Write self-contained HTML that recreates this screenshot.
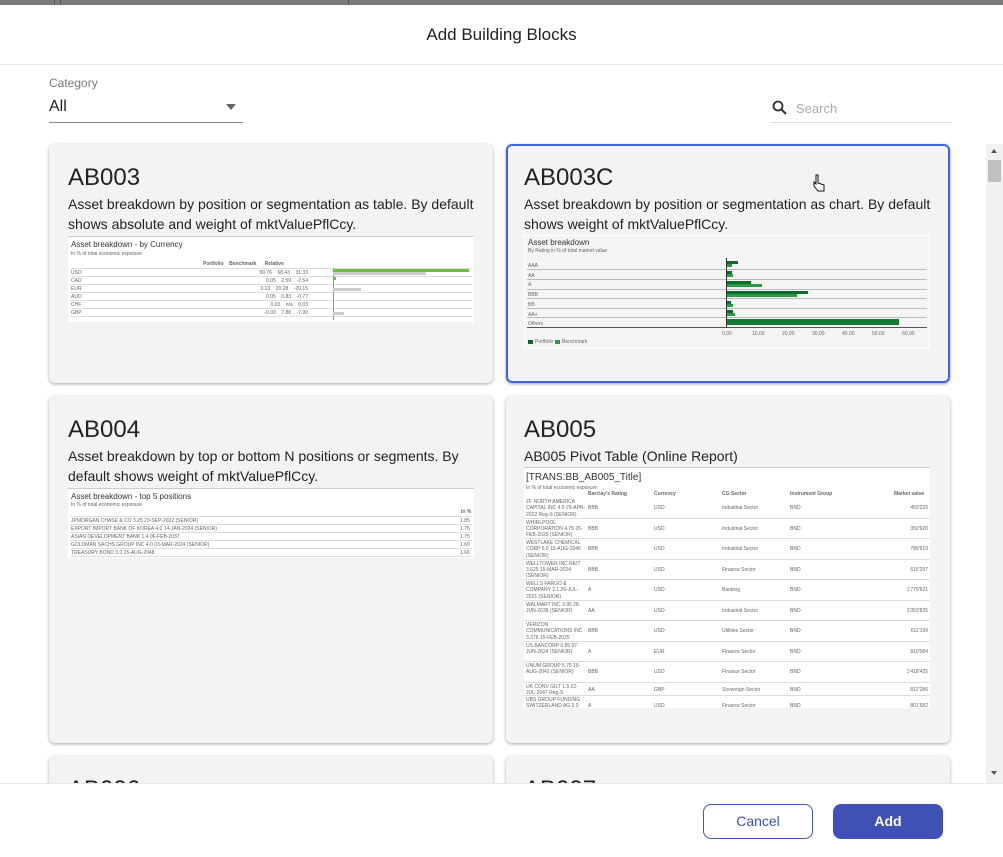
<!DOCTYPE html>
<html><head><meta charset="utf-8"><style>
*{margin:0;padding:0;box-sizing:border-box}
body{width:1003px;height:857px;background:#fff;font-family:"Liberation Sans",sans-serif;position:relative;overflow:hidden;color:#222}
.a{position:absolute}
.card{position:absolute;background:#f3f3f3;border-radius:6px;box-shadow:0 1px 3px rgba(0,0,0,.35)}
.card h2{position:absolute;left:19px;top:20px;font-size:24px;font-weight:normal;color:#222}
.card p{position:absolute;left:19px;top:50px;width:420px;font-size:14px;line-height:20px;color:#222}
.th{position:absolute;background:#fff;overflow:hidden;font-size:5px;color:#666;white-space:nowrap}
.th .t{position:absolute;font-size:8px;color:#333}
.th .r{position:absolute;left:2px;right:2px;height:1px;background:#ddd}
.pr{position:absolute;left:0;width:406px;height:20.5px;border-bottom:1px solid #ddd}
.pr span{position:absolute;top:7px}
.pr .n{left:2px;top:1px;width:60px;line-height:6.3px;white-space:normal;overflow:hidden;height:19px}
</style></head><body>
<div class="a" style="left:0;top:0;width:1003px;height:5px;background:#7b7b7b"></div>
<div class="a" style="left:54px;top:0;width:1px;height:5px;background:#555"></div>
<div class="a" style="left:60px;top:0;width:1px;height:5px;background:#555"></div>
<div class="a" style="left:348px;top:0;width:1px;height:5px;background:#555"></div>
<div class="a" style="left:0;top:25px;width:1003px;text-align:center;font-size:17px;color:#222">Add Building Blocks</div>
<div class="a" style="left:0;top:64px;width:1003px;height:1px;background:#e8e8e8"></div>
<div class="a" style="left:49px;top:76px;font-size:12px;color:#777">Category</div>
<div class="a" style="left:49px;top:98px;font-size:16px;color:#222">All</div>
<div class="a" style="left:226px;top:104px;width:0;height:0;border-left:5px solid transparent;border-right:5px solid transparent;border-top:6px solid #666"></div>
<div class="a" style="left:49px;top:122px;width:194px;height:1px;background:#888"></div>
<svg class="a" style="left:772px;top:100px" width="16" height="16"><circle cx="6" cy="6" r="4.5" fill="none" stroke="#333" stroke-width="1.8"/><line x1="9.5" y1="9.5" x2="14" y2="14" stroke="#333" stroke-width="2"/></svg>
<div class="a" style="left:796px;top:101px;font-size:13px;color:#aaa">Search</div>
<div class="a" style="left:770px;top:122px;width:182px;height:1px;background:#e0e0e0"></div>

<!-- card 1 -->
<div class="card" style="left:49px;top:144px;width:444px;height:239px">
<h2>AB003</h2><p>Asset breakdown by position or segmentation as table. By default shows absolute and weight of mktValuePflCcy.</p>
<div class="th" style="left:19px;top:92px;width:406px;height:86px;border-top:1px solid #ccc">
<div class="t" style="left:3px;top:3px">Asset breakdown - by Currency</div>
<div class="a" style="left:3px;top:14px">In % of total economic exposure</div>
<div class="a" style="left:135px;top:24px;font-weight:bold">Portfolio&nbsp;&nbsp;&nbsp;&nbsp;Benchmark&nbsp;&nbsp;&nbsp;&nbsp;&nbsp;&nbsp;Relative</div>
<div class="r" style="top:31px"></div><div class="r" style="top:39px"></div><div class="r" style="top:47px"></div><div class="r" style="top:55px"></div><div class="r" style="top:63px"></div><div class="r" style="top:71px"></div><div class="r" style="top:79px"></div>
<div class="a" style="left:3px;top:32px;line-height:8px">USD<br>CAD<br>EUR<br>AUD<br>CHF<br>GBP</div>
<div class="a" style="left:150px;top:32px;line-height:8px;text-align:right;width:90px">99.76&nbsp;&nbsp;&nbsp;&nbsp;68.43&nbsp;&nbsp;&nbsp;&nbsp;31.33<br>0.05&nbsp;&nbsp;&nbsp;&nbsp;2.59&nbsp;&nbsp;&nbsp;&nbsp;-2.54<br>0.13&nbsp;&nbsp;&nbsp;&nbsp;20.28&nbsp;&nbsp;&nbsp;&nbsp;-20.15<br>0.05&nbsp;&nbsp;&nbsp;&nbsp;0.83&nbsp;&nbsp;&nbsp;&nbsp;-0.77<br>0.03&nbsp;&nbsp;&nbsp;&nbsp;n/a&nbsp;&nbsp;&nbsp;&nbsp;0.03<br>-0.03&nbsp;&nbsp;&nbsp;&nbsp;7.88&nbsp;&nbsp;&nbsp;&nbsp;-7.90</div>
<div class="a" style="left:265px;top:31px;width:1px;height:52px;background:#999"></div>
<div class="a" style="left:265px;top:32px;width:136px;height:3px;background:#6bbf3a"></div>
<div class="a" style="left:265px;top:35px;width:93px;height:3px;background:#ccc"></div>
<div class="a" style="left:265px;top:40px;width:3px;height:3px;background:#6bbf3a"></div>
<div class="a" style="left:265px;top:51px;width:28px;height:3px;background:#ccc"></div>
<div class="a" style="left:265px;top:75px;width:11px;height:3px;background:#ccc"></div>
</div></div>

<!-- card 2 -->
<div class="card" style="left:506px;top:144px;width:444px;height:239px;border:2px solid #3f65dd;background:#f3f3f3">
<h2 style="left:16px;top:18px">AB003C</h2><p style="left:16px;top:48px">Asset breakdown by position or segmentation as chart. By default shows weight of mktValuePflCcy.</p>
<div class="th" style="left:16px;top:89px;width:406px;height:113px;background:#f4f4f4;border:1px solid #fff">
<div class="t" style="left:3px;top:2px">Asset breakdown</div>
<div class="a" style="left:3px;top:12px">By Rating in % of total market value</div>
<div class="a" style="left:3px;top:26px;line-height:9.7px">AAA<br>AA<br>A<br>BBB<br>BB<br>AA+<br>Others</div>
<div class="r" style="top:33px;background:#bbb"></div><div class="r" style="top:43px;background:#bbb"></div><div class="r" style="top:53px;background:#bbb"></div><div class="r" style="top:62px;background:#bbb"></div><div class="r" style="top:72px;background:#bbb"></div><div class="r" style="top:81px;background:#bbb"></div><div class="r" style="top:91px;background:#555"></div>
<div class="a" style="left:201px;top:22px;width:1px;height:70px;background:#333"></div>
<div class="a" style="left:202px;top:25px;width:11px;height:3px;background:#0b6b2a"></div><div class="a" style="left:202px;top:28px;width:5px;height:3px;background:#2a9a40"></div>
<div class="a" style="left:202px;top:35px;width:5px;height:3px;background:#0b6b2a"></div><div class="a" style="left:202px;top:38px;width:6px;height:3px;background:#2a9a40"></div>
<div class="a" style="left:202px;top:45px;width:24px;height:3px;background:#0b6b2a"></div><div class="a" style="left:202px;top:48px;width:35px;height:3px;background:#2a9a40"></div>
<div class="a" style="left:202px;top:55px;width:81px;height:3px;background:#0b6b2a"></div><div class="a" style="left:202px;top:58px;width:70px;height:3px;background:#2a9a40"></div>
<div class="a" style="left:202px;top:65px;width:4px;height:3px;background:#0b6b2a"></div><div class="a" style="left:202px;top:68px;width:6px;height:3px;background:#2a9a40"></div>
<div class="a" style="left:202px;top:74px;width:6px;height:3px;background:#0b6b2a"></div><div class="a" style="left:202px;top:77px;width:8px;height:3px;background:#2a9a40"></div>
<div class="a" style="left:202px;top:83px;width:172px;height:6px;background:#137a30"></div>
<div class="a" style="left:197px;top:95px"><span class="a" style="left:0">0.00</span><span class="a" style="left:30px">10.00</span><span class="a" style="left:60px">20.00</span><span class="a" style="left:90px">30.00</span><span class="a" style="left:120px">40.00</span><span class="a" style="left:150px">50.00</span><span class="a" style="left:180px">60.00</span></div>
<div class="a" style="left:3px;top:104px;width:5px;height:4px;background:#0b6b2a"></div><div class="a" style="left:10px;top:103px">Portfolio</div>
<div class="a" style="left:30px;top:104px;width:5px;height:4px;background:#2a9a40"></div><div class="a" style="left:37px;top:103px">Benchmark</div>
</div></div>
<svg class="a" style="left:811px;top:173px" width="16" height="20"><path d="M5 2 v9 l-2 -2 v4 l4 5 h6 v-6 l-6 -2 v-8 z" fill="#fff" stroke="#111" stroke-width="1"/></svg>

<!-- card 3 -->
<div class="card" style="left:49px;top:396px;width:444px;height:347px">
<h2>AB004</h2><p>Asset breakdown by top or bottom N positions or segments. By default shows weight of mktValuePflCcy.</p>
<div class="th" style="left:19px;top:92px;width:406px;height:70px;border-top:1px solid #ccc">
<div class="t" style="left:3px;top:3px">Asset breakdown - top 5 positions</div>
<div class="a" style="left:3px;top:13px">In % of total economic exposure</div>
<div class="a" style="left:393px;top:20px;font-weight:bold">in %</div>
<div class="r" style="top:27px"></div><div class="r" style="top:35px"></div><div class="r" style="top:43px"></div><div class="r" style="top:51px"></div><div class="r" style="top:59px"></div><div class="r" style="top:67px"></div>
<div class="a" style="left:3px;top:28px;line-height:8px">JPMORGAN CHASE &amp; CO 3.25 23-SEP-2022 (SENIOR)<br>EXPORT IMPORT BANK OF KOREA 4.0 14-JAN-2024 (SENIOR)<br>ASIAN DEVELOPMENT BANK 1.4 06-FEB-2037<br>GOLDMAN SACHS GROUP INC 4.0 03-MAR-2024 (SENIOR)<br>TREASURY BOND 3.0 15-AUG-2048</div>
<div class="a" style="left:392px;top:28px;line-height:8px">1.85<br>1.75<br>1.75<br>1.69<br>1.66</div>
</div></div>

<!-- card 4 -->
<div class="card" style="left:506px;top:396px;width:444px;height:347px">
<h2 style="left:18px">AB005</h2><p style="left:18px">AB005 Pivot Table (Online Report)</p>
<div class="th" style="left:18px;top:71px;width:406px;height:241px;border-top:1px solid #ccc">
<div class="t" style="left:2px;top:4px;font-size:10px">[TRANS:BB_AB005_Title]</div>
<div class="a" style="left:2px;top:17px">In % of total economic exposure</div>
<div class="a" style="left:64px;top:23px;font-weight:bold">Barclay's Rating</div>
<div class="a" style="left:130px;top:23px;font-weight:bold">Currency</div>
<div class="a" style="left:198px;top:23px;font-weight:bold">CG Sector</div>
<div class="a" style="left:266px;top:23px;font-weight:bold">Instrument Group</div>
<div class="a" style="left:370px;top:23px;font-weight:bold">Market value</div>
<div class="pr" style="top:30px"><span class="n">ZF NORTH AMERICA CAPITAL INC 4.5 29-APR-2022 Reg-S (SENIOR)</span><span style="left:64px">BBB</span><span style="left:130px">USD</span><span style="left:198px">Industrial Sector</span><span style="left:266px">BND</span><span style="right:2px">459'225</span></div>
<div class="pr" style="top:50.5px"><span class="n">WHIRLPOOL CORPORATION 4.75 26-FEB-2029 (SENIOR)</span><span style="left:64px">BBB</span><span style="left:130px">USD</span><span style="left:198px">Industrial Sector</span><span style="left:266px">BND</span><span style="right:2px">350'920</span></div>
<div class="pr" style="top:71px"><span class="n">WESTLAKE CHEMICAL CORP 5.0 15-AUG-2046 (SENIOR)</span><span style="left:64px">BBB</span><span style="left:130px">USD</span><span style="left:198px">Industrial Sector</span><span style="left:266px">BND</span><span style="right:2px">789'619</span></div>
<div class="pr" style="top:91.5px"><span class="n">WELLTOWER INC REIT 3.625 15-MAR-2024 (SENIOR)</span><span style="left:64px">BBB</span><span style="left:130px">USD</span><span style="left:198px">Finance Sector</span><span style="left:266px">BND</span><span style="right:2px">615'297</span></div>
<div class="pr" style="top:112px"><span class="n">WELLS FARGO &amp; COMPANY 2.1 26-JUL-2021 (SENIOR)</span><span style="left:64px">A</span><span style="left:130px">USD</span><span style="left:198px">Banking</span><span style="left:266px">BND</span><span style="right:2px">1'779'621</span></div>
<div class="pr" style="top:132.5px"><span class="n">WALMART INC 3.95 28-JUN-2038 (SENIOR)</span><span style="left:64px">AA</span><span style="left:130px">USD</span><span style="left:198px">Industrial Sector</span><span style="left:266px">BND</span><span style="right:2px">1'053'825</span></div>
<div class="pr" style="top:153px"><span class="n">VERIZON COMMUNICATIONS INC 3.376 15-FEB-2025 (SENIOR)</span><span style="left:64px">BBB</span><span style="left:130px">USD</span><span style="left:198px">Utilities Sector</span><span style="left:266px">BND</span><span style="right:2px">611'199</span></div>
<div class="pr" style="top:173.5px"><span class="n">US BANCORP 0.85 07-JUN-2024 (SENIOR)</span><span style="left:64px">A</span><span style="left:130px">EUR</span><span style="left:198px">Finance Sector</span><span style="left:266px">BND</span><span style="right:2px">810'084</span></div>
<div class="pr" style="top:194px"><span class="n">UNUM GROUP 5.75 15-AUG-2042 (SENIOR)</span><span style="left:64px">BBB</span><span style="left:130px">USD</span><span style="left:198px">Finance Sector</span><span style="left:266px">BND</span><span style="right:2px">1'418'425</span></div>
<div class="pr" style="top:214.5px;height:13px"><span class="n" style="height:12px">UK CONV GILT 1.5 22-JUL-2047 Reg-S</span><span style="left:64px;top:4px">AA</span><span style="left:130px;top:4px">GBP</span><span style="left:198px;top:4px">Sovereign Sector</span><span style="left:266px;top:4px">BND</span><span style="right:2px;top:4px">812'286</span></div>
<div class="pr" style="top:228px;border:none"><span class="n">UBS GROUP FUNDING SWITZERLAND AG 3.0 15-APR-2021 Reg-S (SENIOR)</span><span style="left:64px">A</span><span style="left:130px">USD</span><span style="left:198px">Finance Sector</span><span style="left:266px">BND</span><span style="right:2px">801'582</span></div>
</div></div>

<!-- row 3 partial -->
<div style="position:absolute;left:0;top:744px;width:985px;height:39px;overflow:hidden">
<div class="card" style="left:49px;top:12px;width:444px;height:100px"><h2>AB006</h2></div>
<div class="card" style="left:506px;top:12px;width:444px;height:100px"><h2 style="left:18px">AB007</h2></div>
</div>

<!-- scrollbar -->
<div class="a" style="left:986px;top:144px;width:17px;height:639px;background:#f1f1f1"></div>
<div class="a" style="left:991px;top:149px;border-left:3.5px solid transparent;border-right:3.5px solid transparent;border-bottom:4px solid #555"></div>
<div class="a" style="left:988px;top:160px;width:13px;height:22px;background:#c1c1c1"></div>
<div class="a" style="left:991px;top:771px;border-left:3.5px solid transparent;border-right:3.5px solid transparent;border-top:4px solid #555"></div>

<!-- footer -->
<div class="a" style="left:0;top:783px;width:1003px;height:1px;background:#e8e8e8"></div>
<div class="a" style="left:703px;top:804px;width:110px;height:35px;border:1px solid #4056b8;border-radius:8px;text-align:center;line-height:33px;font-size:14px;color:#3f51b5">Cancel</div>
<div class="a" style="left:833px;top:804px;width:110px;height:35px;background:#3f51b5;border-radius:8px;text-align:center;line-height:35px;font-size:14px;color:#fff;font-weight:bold">Add</div>
</body></html>
